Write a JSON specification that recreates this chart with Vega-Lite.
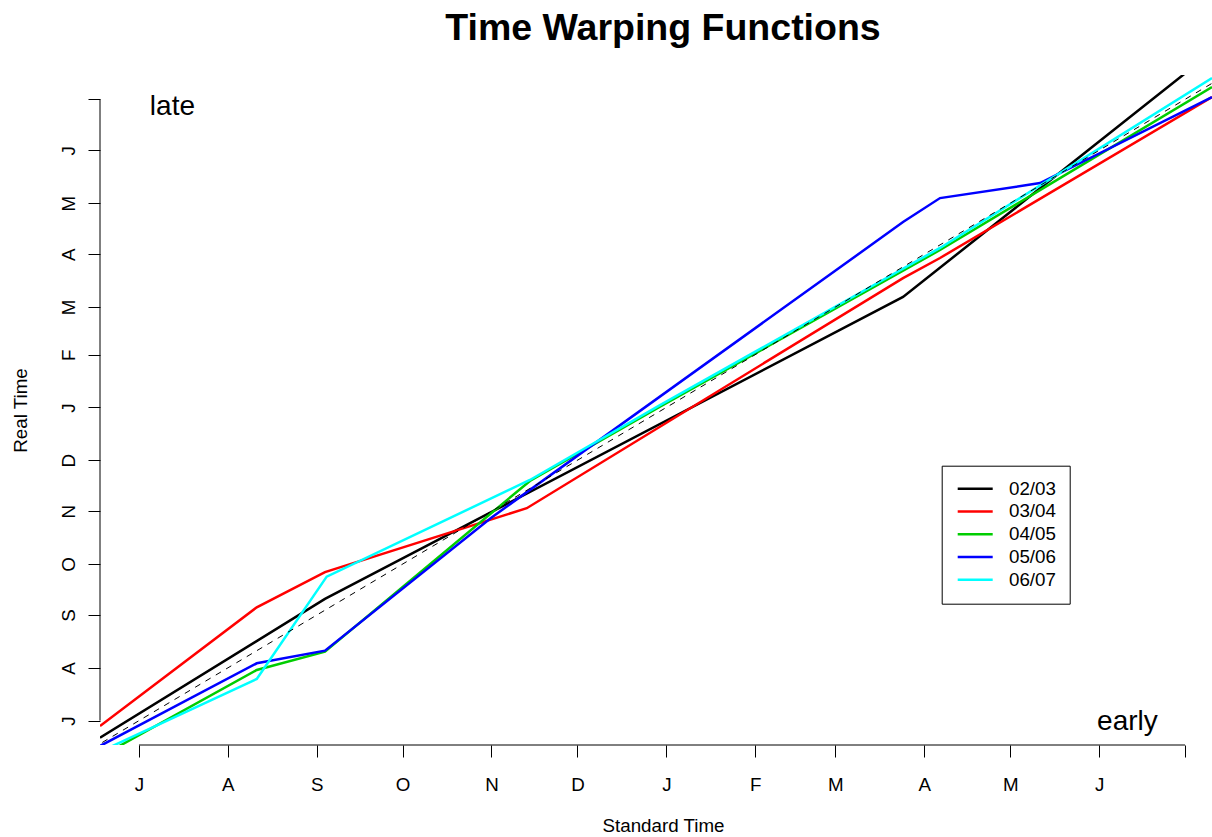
{
  "$schema": "https://vega.github.io/schema/vega-lite/v6.json",
  "width": 1112,
  "height": 670,
  "autosize": {"type": "none"},
  "padding": {"left": 100, "top": 75, "right": 0, "bottom": 92},
  "background": "white",
  "config": {
    "font": "Liberation Sans",
    "view": {"stroke": null},
    "axis": {"grid": false, "domain": false}
  },
  "title": {
    "text": "Time Warping Functions",
    "font": "Liberation Sans",
    "fontSize": 37.5,
    "fontWeight": "bold",
    "color": "black",
    "anchor": "middle",
    "frame": "group",
    "baseline": "alphabetic",
    "offset": 34,
    "dx": 7,
    "dy": 36
  },
  "datasets": {
    "warp": [
      {"season": "02/03", "x": -13.6, "y": -10.0},
      {"season": "02/03", "x": 64.9, "y": 71.5},
      {"season": "02/03", "x": 266.6, "y": 248.9},
      {"season": "02/03", "x": 374.4, "y": 392.8},
      {"season": "03/04", "x": -13.6, "y": -3.2},
      {"season": "03/04", "x": 41.1, "y": 66.6},
      {"season": "03/04", "x": 64.9, "y": 87.3},
      {"season": "03/04", "x": 135.3, "y": 124.8},
      {"season": "03/04", "x": 266.6, "y": 260.0},
      {"season": "03/04", "x": 279.5, "y": 271.8},
      {"season": "03/04", "x": 374.4, "y": 366.3},
      {"season": "04/05", "x": -13.6, "y": -21.2},
      {"season": "04/05", "x": 41.1, "y": 29.8},
      {"season": "04/05", "x": 64.9, "y": 40.5},
      {"season": "04/05", "x": 136.4, "y": 140.8},
      {"season": "04/05", "x": 181.8, "y": 184.4},
      {"season": "04/05", "x": 279.5, "y": 276.5},
      {"season": "04/05", "x": 374.4, "y": 372.2},
      {"season": "05/06", "x": -13.6, "y": -14.9},
      {"season": "05/06", "x": 41.1, "y": 33.7},
      {"season": "05/06", "x": 64.9, "y": 41.1},
      {"season": "05/06", "x": 122.8, "y": 119.1},
      {"season": "05/06", "x": 266.6, "y": 292.9},
      {"season": "05/06", "x": 279.5, "y": 307.0},
      {"season": "05/06", "x": 314.4, "y": 315.8},
      {"season": "05/06", "x": 374.4, "y": 366.3},
      {"season": "06/07", "x": -13.6, "y": -18.3},
      {"season": "06/07", "x": 41.1, "y": 24.5},
      {"season": "06/07", "x": 65.5, "y": 84.6},
      {"season": "06/07", "x": 136.4, "y": 141.4},
      {"season": "06/07", "x": 181.8, "y": 185.4},
      {"season": "06/07", "x": 279.5, "y": 277.7},
      {"season": "06/07", "x": 374.4, "y": 377.5}
    ],
    "identity": [
      {"x": -20, "y": -20},
      {"x": 400, "y": 400}
    ],
    "one": [{}]
  },
  "layer": [
    {
      "data": {"name": "warp"},
      "mark": {"type": "line", "clip": true, "strokeWidth": 2.5, "interpolate": "linear"},
      "encoding": {
        "x": {
          "field": "x",
          "type": "quantitative",
          "scale": {"domain": [-13.6, 374.4], "nice": false, "zero": false},
          "axis": {
            "values": [0, 31, 62, 92, 123, 153, 184, 215, 243, 274, 304, 335, 365],
            "labelExpr": "['J','A','S','O','N','D','J','F','M','A','M','J',''][indexof([0,31,62,92,123,153,184,215,243,274,304,335,365], datum.value)]",
            "tickSize": 12,
            "tickColor": "black",
            "tickWidth": 1,
            "labelFontSize": 18.75,
            "labelFont": "Liberation Sans",
            "labelColor": "black",
            "labelPadding": 33,
            "labelBaseline": "alphabetic",
            "labelAlign": "center",
            "labelFlush": false,
            "labelOverlap": false,
            "title": "Standard Time",
            "titleFont": "Liberation Sans",
            "titleFontSize": 18.75,
            "titleFontWeight": "normal",
            "titleColor": "black",
            "titleX": 563,
            "titleY": 86.7,
            "titleAlign": "center",
            "titleBaseline": "alphabetic"
          }
        },
        "y": {
          "field": "y",
          "type": "quantitative",
          "scale": {"domain": [-14.3, 379.3], "nice": false, "zero": false},
          "axis": {
            "values": [0, 31, 62, 92, 123, 153, 184, 215, 243, 274, 304, 335, 365],
            "labelExpr": "['J','A','S','O','N','D','J','F','M','A','M','J',''][indexof([0,31,62,92,123,153,184,215,243,274,304,335,365], datum.value)]",
            "tickSize": 12,
            "tickColor": "black",
            "tickWidth": 1,
            "labelFontSize": 18.75,
            "labelFont": "Liberation Sans",
            "labelColor": "black",
            "labelAngle": -90,
            "labelPadding": 14,
            "labelBaseline": "alphabetic",
            "labelAlign": "center",
            "labelFlush": false,
            "labelOverlap": false,
            "title": "Real Time",
            "titleFont": "Liberation Sans",
            "titleFontSize": 18.75,
            "titleFontWeight": "normal",
            "titleColor": "black",
            "titleAngle": -90,
            "titleX": -73.3,
            "titleY": 335,
            "titleAlign": "center",
            "titleBaseline": "alphabetic"
          }
        },
        "color": {
          "field": "season",
          "type": "nominal",
          "scale": {
            "domain": ["02/03", "03/04", "04/05", "05/06", "06/07"],
            "range": ["#000000", "#FF0000", "#00CD00", "#0000FF", "#00FFFF"]
          },
          "legend": {
            "title": null,
            "orient": "none",
            "legendX": 841.7,
            "legendY": 390.7,
            "strokeColor": "black",
            "fillColor": "white",
            "padding": 13.5,
            "symbolType": "M-2.1875,0H2.1875",
            "symbolSize": 256,
            "symbolStrokeWidth": 2.5,
            "symbolFillColor": "transparent",
            "rowPadding": 2.75,
            "symbolOffset": 10.5,
            "labelOffset": 24.3,
            "labelFont": "Liberation Sans",
            "labelFontSize": 18.75,
            "labelColor": "black",
            "labelLimit": 0,
            "cornerRadius": 0
          }
        }
      }
    },
    {
      "data": {"name": "identity"},
      "mark": {"type": "line", "clip": true, "color": "black", "strokeWidth": 1, "strokeDash": [6, 6]},
      "encoding": {
        "x": {"field": "x", "type": "quantitative"},
        "y": {"field": "y", "type": "quantitative"}
      }
    },
    {
      "data": {"name": "one"},
      "mark": {"type": "rule", "color": "black", "strokeWidth": 1},
      "encoding": {
        "x": {"datum": 0},
        "x2": {"datum": 365},
        "y": {"datum": -14.3}
      }
    },
    {
      "data": {"name": "one"},
      "mark": {"type": "rule", "color": "black", "strokeWidth": 1},
      "encoding": {
        "x": {"datum": -13.6},
        "y": {"datum": 0},
        "y2": {"datum": 365}
      }
    },
    {
      "data": {"name": "one"},
      "mark": {"type": "text", "font": "Liberation Sans", "fontSize": 28, "align": "left", "baseline": "alphabetic", "color": "black"},
      "encoding": {
        "x": {"datum": 3.8},
        "y": {"datum": 355.8},
        "text": {"value": "late"}
      }
    },
    {
      "data": {"name": "one"},
      "mark": {"type": "text", "font": "Liberation Sans", "fontSize": 28, "align": "left", "baseline": "alphabetic", "color": "black"},
      "encoding": {
        "x": {"datum": 334.3},
        "y": {"datum": -5.5},
        "text": {"value": "early"}
      }
    }
  ]
}
